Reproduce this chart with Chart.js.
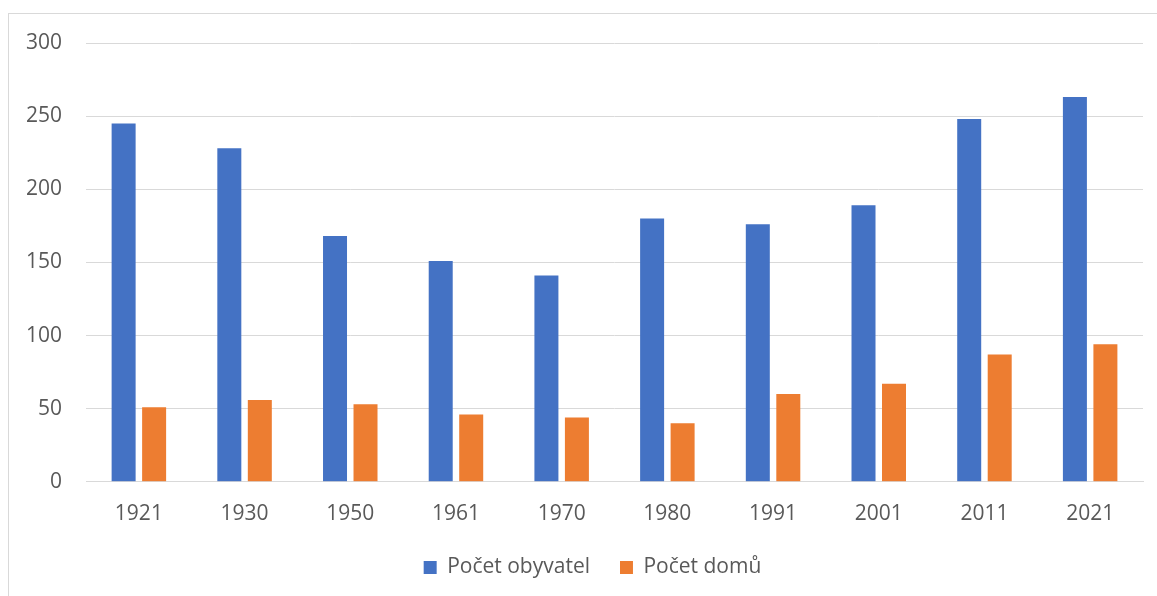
<!DOCTYPE html>
<html>
<head>
<meta charset="utf-8">
<script src="https://cdn.jsdelivr.net/npm/chart.js@4"></script>
<style>
  body { margin: 0; background: #fff; overflow: hidden; }
  #frame { position: absolute; left: 8px; top: 13px; width: 1160px; height: 600px; border: 1px solid #d9d9d9; }
  #wrap { position: absolute; left: 0; top: 0; width: 1157px; height: 596px; overflow: hidden; }
</style>
</head>
<body>
<div id="frame"></div>
<div id="wrap"><canvas id="graf" width="1157" height="588"></canvas></div>
<script>
  // roky scitani
  const roky = ['1921', '1930', '1950', '1961', '1970', '1980', '1991', '2001', '2011', '2021'];
  const obyvatel = [245, 228, 168, 151, 141, 180, 176, 189, 248, 263];
  const domu = [51, 56, 53, 46, 44, 40, 60, 67, 87, 94];

  const pismo = { family: '"Open Sans", sans-serif', size: 21 };
  const sedaText = '#595959';
  const mrizka = '#d9d9d9';

  // posun legendy trochu doprava, jako v puvodnim grafu
  const posunLegendy = {
    id: 'posunLegendy',
    afterLayout(chart) {
      chart.legend.left += 40;
    }
  };

  const ctx = document.getElementById('graf').getContext('2d');
  const chart = new Chart(ctx, {
    type: 'bar',
    data: {
      labels: roky,
      datasets: [{
        label: 'Počet obyvatel',
        data: obyvatel,
        backgroundColor: '#4472C4',
        categoryPercentage: 0.577,
        barPercentage: 0.787
      }, {
        label: 'Počet domů',
        data: domu,
        backgroundColor: '#ED7D31',
        categoryPercentage: 0.577,
        barPercentage: 0.787
      }]
    },
    options: {
      responsive: false,
      animation: false,
      layout: { padding: { left: 2, right: 14, top: 43, bottom: 0 } },
      scales: {
        x: {
          grid: { display: false, drawTicks: false },
          border: { color: mrizka, width: 1 },
          ticks: { color: sedaText, font: pismo, padding: 20 },
          afterFit(scale) { scale.height -= 20; }
        },
        y: {
          min: 0,
          max: 300,
          grid: { color: mrizka, drawTicks: false },
          border: { display: false },
          ticks: { stepSize: 50, color: sedaText, font: pismo, padding: 24 }
        }
      },
      plugins: {
        legend: {
          position: 'bottom',
          labels: { color: sedaText, font: pismo, boxWidth: 13, boxHeight: 13, padding: 30 }
        },
        tooltip: { enabled: false }
      }
    },
    plugins: [posunLegendy]
  });
</script>
</body>
</html>
